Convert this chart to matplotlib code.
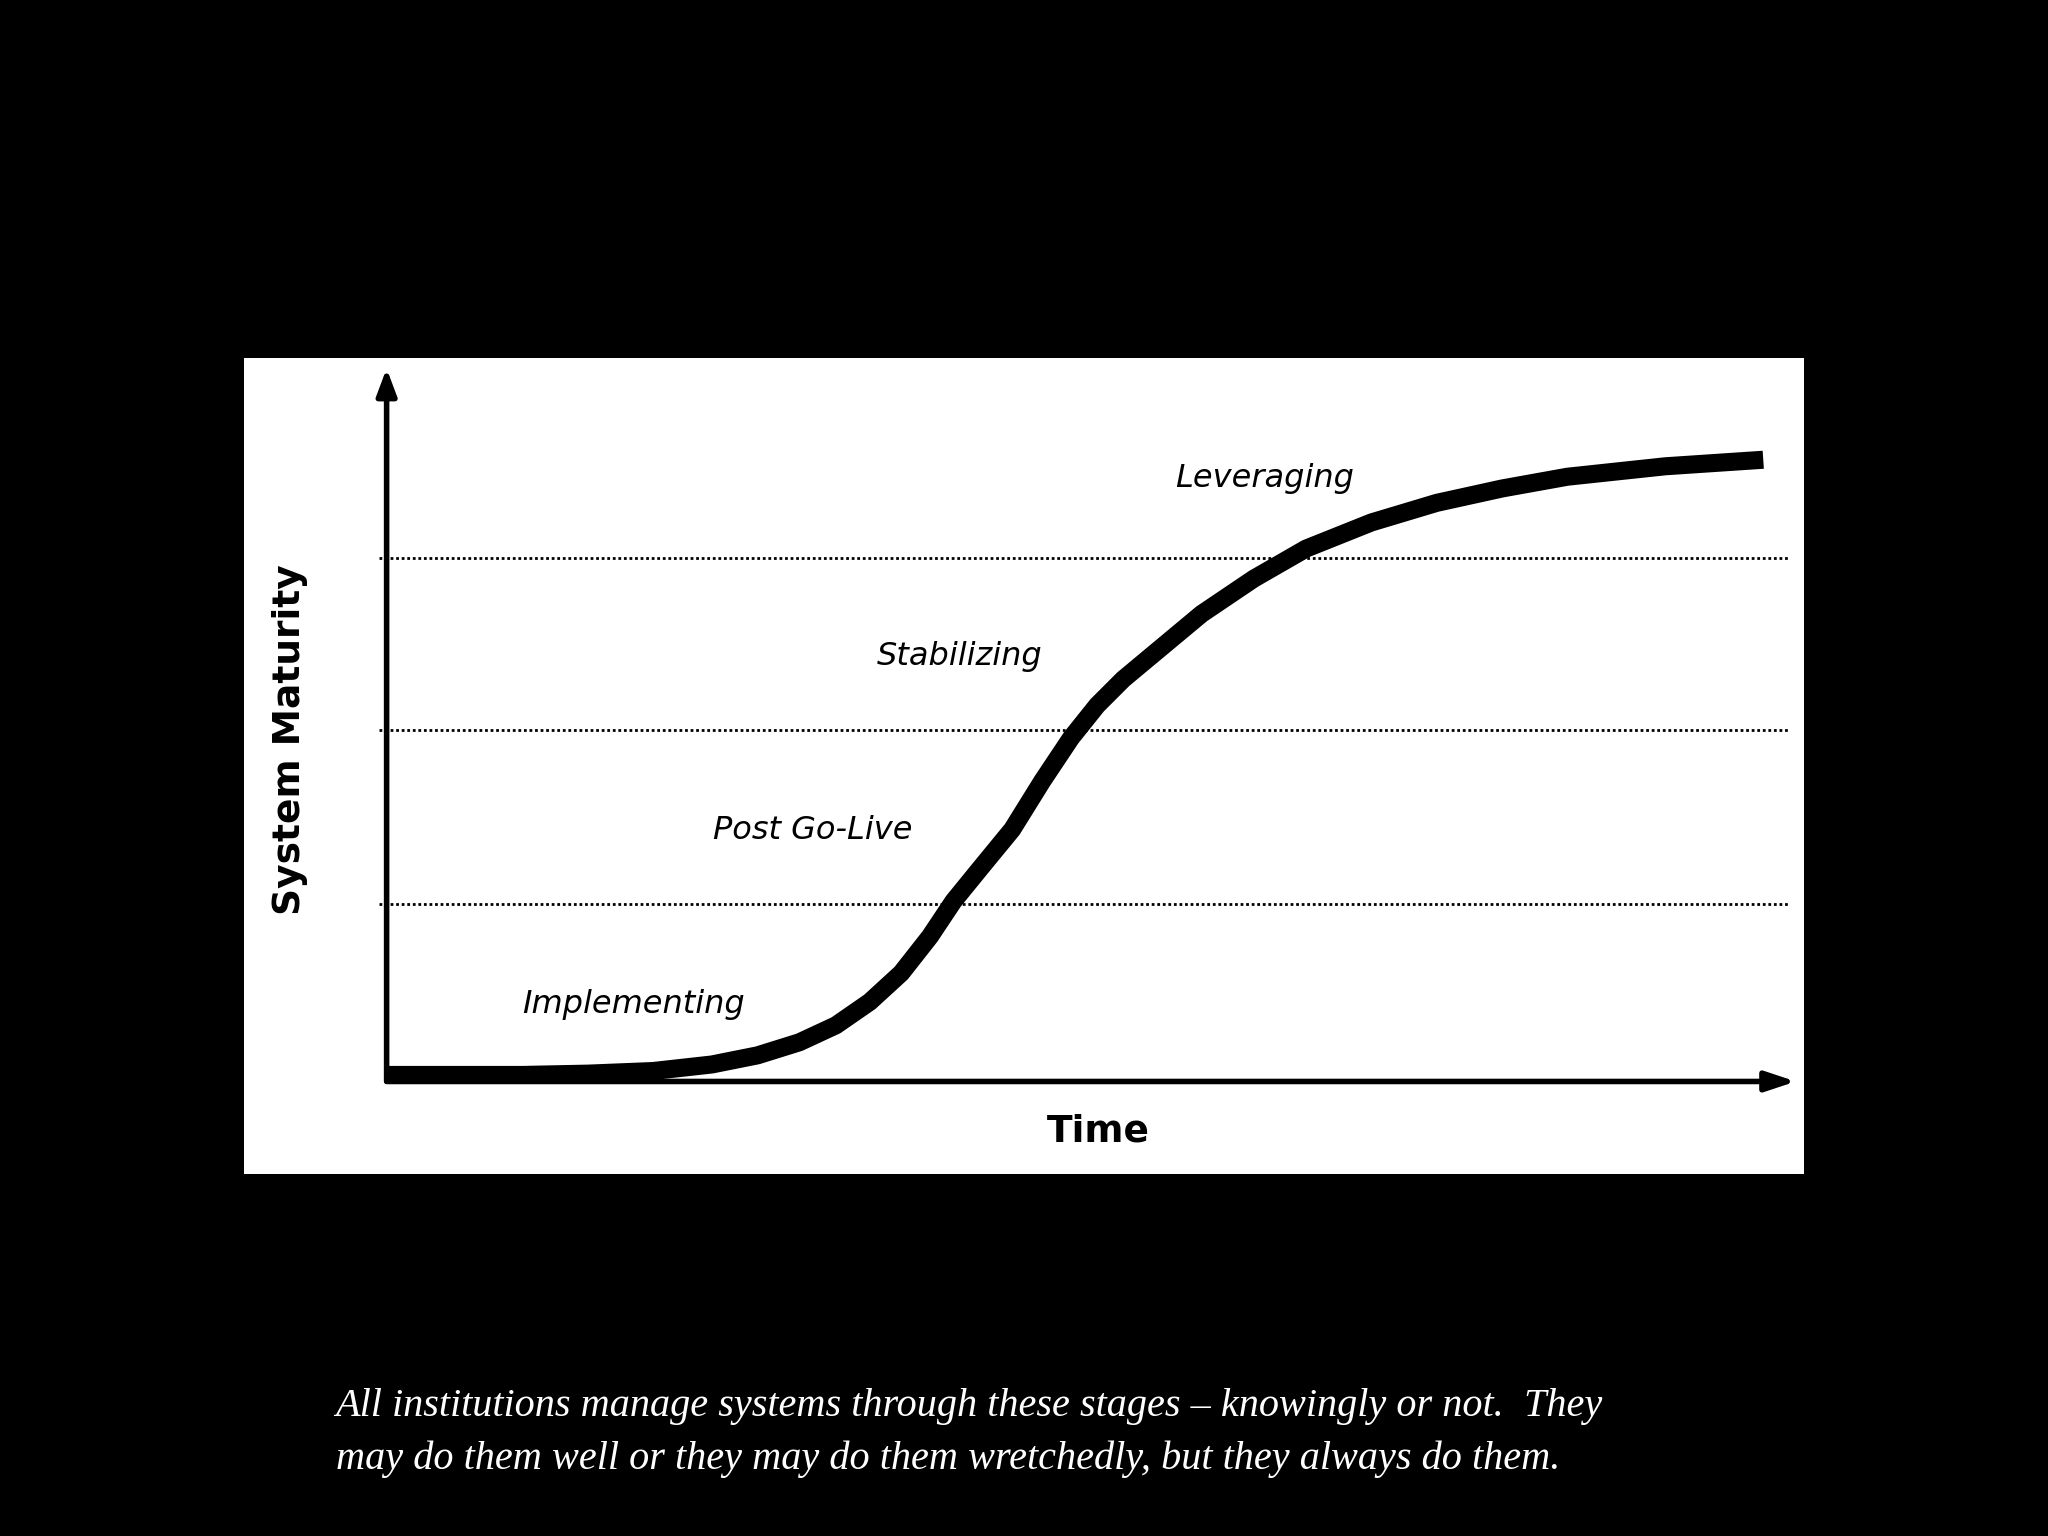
import matplotlib
matplotlib.use("Agg")
import matplotlib.pyplot as plt

W, H = 1568, 1176
# panel in reference pixel coords
PL, PR, PT, PB = 187, 1381, 274, 899

def px(x): return (x - PL) / (PR - PL)
def py(y): return (PB - y) / (PB - PT)

curve_x = [296, 350, 400, 450, 500, 545, 580, 612, 640, 666, 690, 712, 730, 752, 775, 798, 820, 840, 860, 890, 920, 960, 1000, 1050, 1100, 1150, 1200, 1275, 1350]
curve_y = [823, 823, 823, 822, 820, 815, 808, 798, 785, 767, 745, 717, 690, 663, 635, 598, 565, 540, 520, 495, 470, 443, 420, 400, 385, 374, 365, 357, 352]
stage_labels = ["Implementing", "Post Go-Live", "Stabilizing", "Leveraging"]
label_x = [485, 622, 735, 968]
label_y = [769, 636, 503, 366]
boundary_y = [692, 559, 427]
caption = ["All institutions manage systems through these stages \u2013 knowingly or not.  They",
           "may do them well or they may do them wretchedly, but they always do them."]

fig = plt.figure(figsize=(20.48, 15.36), dpi=100, facecolor="black")
ax = fig.add_axes([PL / W, 1 - PB / H, (PR - PL) / W, (PB - PT) / H])
ax.set_facecolor("white")
ax.set_xlim(0, 1); ax.set_ylim(0, 1)
ax.set_xticks([]); ax.set_yticks([])
for s in ax.spines.values():
    s.set_visible(False)

for b in boundary_y:
    ax.plot([px(290), px(1370)], [py(b), py(b)], color="black", lw=2, linestyle=(0, (1, 1)))

ax.plot([px(c) for c in curve_x], [py(c) for c in curve_y], color="black", lw=13,
        solid_capstyle="butt", solid_joinstyle="round")

# axes arrows
ax.annotate("", xy=(px(296), py(280)), xytext=(px(296), py(830)),
            arrowprops=dict(arrowstyle="-|>,head_width=0.6,head_length=1.6", color="black", lw=4))
ax.annotate("", xy=(px(1377), py(828)), xytext=(px(294), py(828)),
            arrowprops=dict(arrowstyle="-|>,head_width=0.6,head_length=1.8", color="black", lw=4))

for t, x, y in zip(stage_labels, label_x, label_y):
    ax.text(px(x), py(y), t, fontsize=23, style="italic", ha="center", va="center",
            family="DejaVu Sans")
ax.text(px(841), py(866), "Time", fontsize=27, fontweight="bold", ha="center", va="center")
ax.text(px(222), py(566), "System Maturity", fontsize=27, fontweight="bold", ha="center",
        va="center", rotation=90)

for i, line in enumerate(caption):
    fig.text(257 / W, 1 - (1077 + 40 * i) / H, line, color="white", fontsize=29,
             style="italic", family="Liberation Serif", ha="left", va="center")

fig.savefig("out.png", dpi=100, facecolor="black")
